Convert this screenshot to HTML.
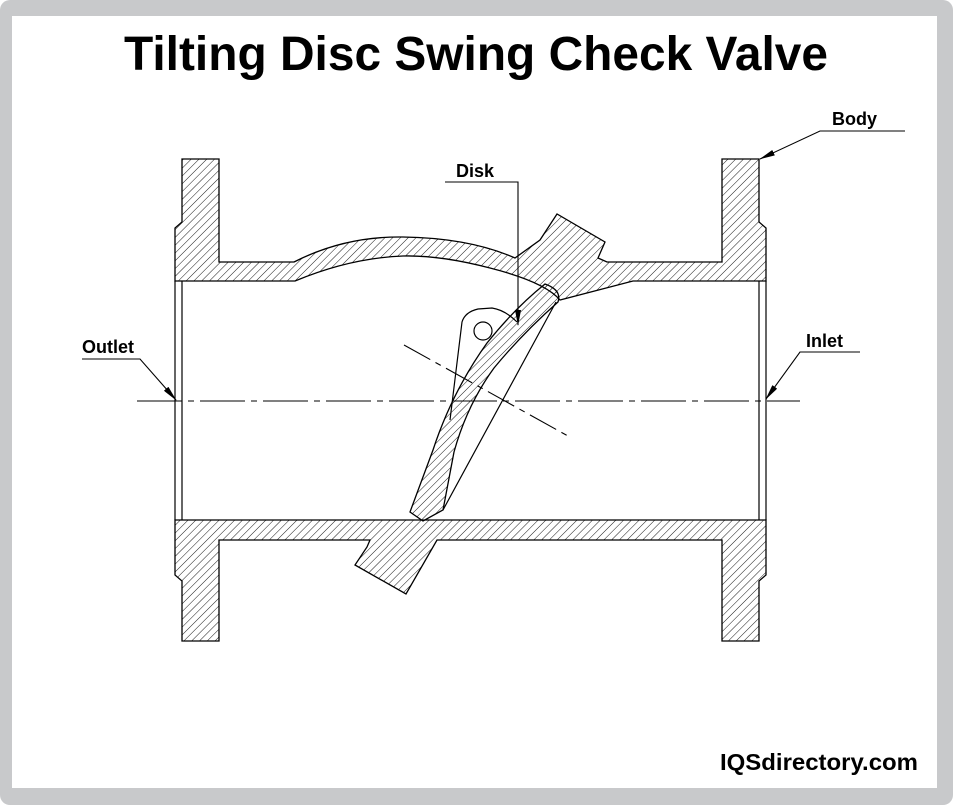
<!DOCTYPE html>
<html><head><meta charset="utf-8"><style>
html,body{margin:0;padding:0;width:953px;height:805px;overflow:hidden;background:#fff}
</style></head><body>
<svg width="953" height="805" viewBox="0 0 953 805" xmlns="http://www.w3.org/2000/svg">
<defs>
<pattern id="h" patternUnits="userSpaceOnUse" width="5.5" height="5.5" patternTransform="rotate(45)">
<line x1="0" y1="0" x2="0" y2="5.5" stroke="#000" stroke-width="0.9"/>
</pattern>
<marker id="a" markerWidth="16" markerHeight="6" refX="15" refY="3" orient="auto" markerUnits="userSpaceOnUse">
<path d="M0,0 L16,3 L0,6 z" fill="#000"/>
</marker>
</defs>
<rect x="0" y="0" width="953" height="805" rx="10" fill="#c8c9cb"/>
<rect x="12" y="16" width="925" height="772" fill="#fff"/>
<text x="476" y="70" text-anchor="middle" font-family="Liberation Sans, sans-serif" font-weight="bold" font-size="48" textLength="704" lengthAdjust="spacingAndGlyphs">Tilting Disc Swing Check Valve</text>

<g stroke="#000" stroke-width="1.3" fill="url(#h)" stroke-linejoin="miter">
<path d="M182,159 L219,159 L219,262 L294,262 Q345,236 403,237 Q470,238 515,258 L540,240 L557,214 L605,242 L598,258 L607,262 L722,262 L722,159 L759,159 L759,222 L766,228 L766,281 L633,281 L560,300 Q545,282 490,268 Q440,255 403,256 Q350,258 295,281 L175,281 L175,228 L182,222 Z"/>
<path d="M175,520 L766,520 L766,575 L759,581 L759,641 L722,641 L722,540 L437,540 L406,594 L355,565 L367,547 L370,540 L219,540 L219,641 L182,641 L182,581 L175,575 Z"/>
<path d="M545,284 Q562,290 558,302 Q522,334 494,368 Q467,405 454,452 L443,510 L423,521 L410,512 L433,450 Q452,392 487,343 Q515,308 545,284 Z"/>
</g>
<g stroke="#000" stroke-width="1.2" fill="none">
<line x1="175" y1="281" x2="175" y2="520"/><line x1="182" y1="281" x2="182" y2="520"/>
<line x1="759" y1="281" x2="759" y2="520"/><line x1="766" y1="281" x2="766" y2="520"/>
<path d="M450,420 L462,322 Q465,312 478,309 L492,308 Q505,310 517,322"/>
<line x1="556" y1="302" x2="443" y2="510"/>
<circle cx="483" cy="331" r="9"/>
</g>
<g stroke="#000" stroke-width="1.1">
<line x1="137" y1="401" x2="800" y2="401" stroke-dasharray="45,6,6,6"/>
<line x1="404" y1="345" x2="568" y2="436" stroke-dasharray="30,6,6,6"/>
<polyline points="445,182 518,182 518,325" fill="none" marker-end="url(#a)"/>
<polyline points="905,131 820,131 760,159" fill="none" marker-end="url(#a)"/>
<polyline points="82,359 140,359 176,400" fill="none" marker-end="url(#a)"/>
<polyline points="860,352 800,352 766,399" fill="none" marker-end="url(#a)"/>
</g>
<g font-family="Liberation Sans, sans-serif" font-weight="bold" font-size="18" fill="#000">
<text x="456" y="177">Disk</text>
<text x="832" y="125">Body</text>
<text x="82" y="353">Outlet</text>
<text x="806" y="347">Inlet</text>
<text x="918" y="770" text-anchor="end" font-size="23" textLength="198" lengthAdjust="spacingAndGlyphs">IQSdirectory.com</text>
</g>
</svg>
</body></html>
